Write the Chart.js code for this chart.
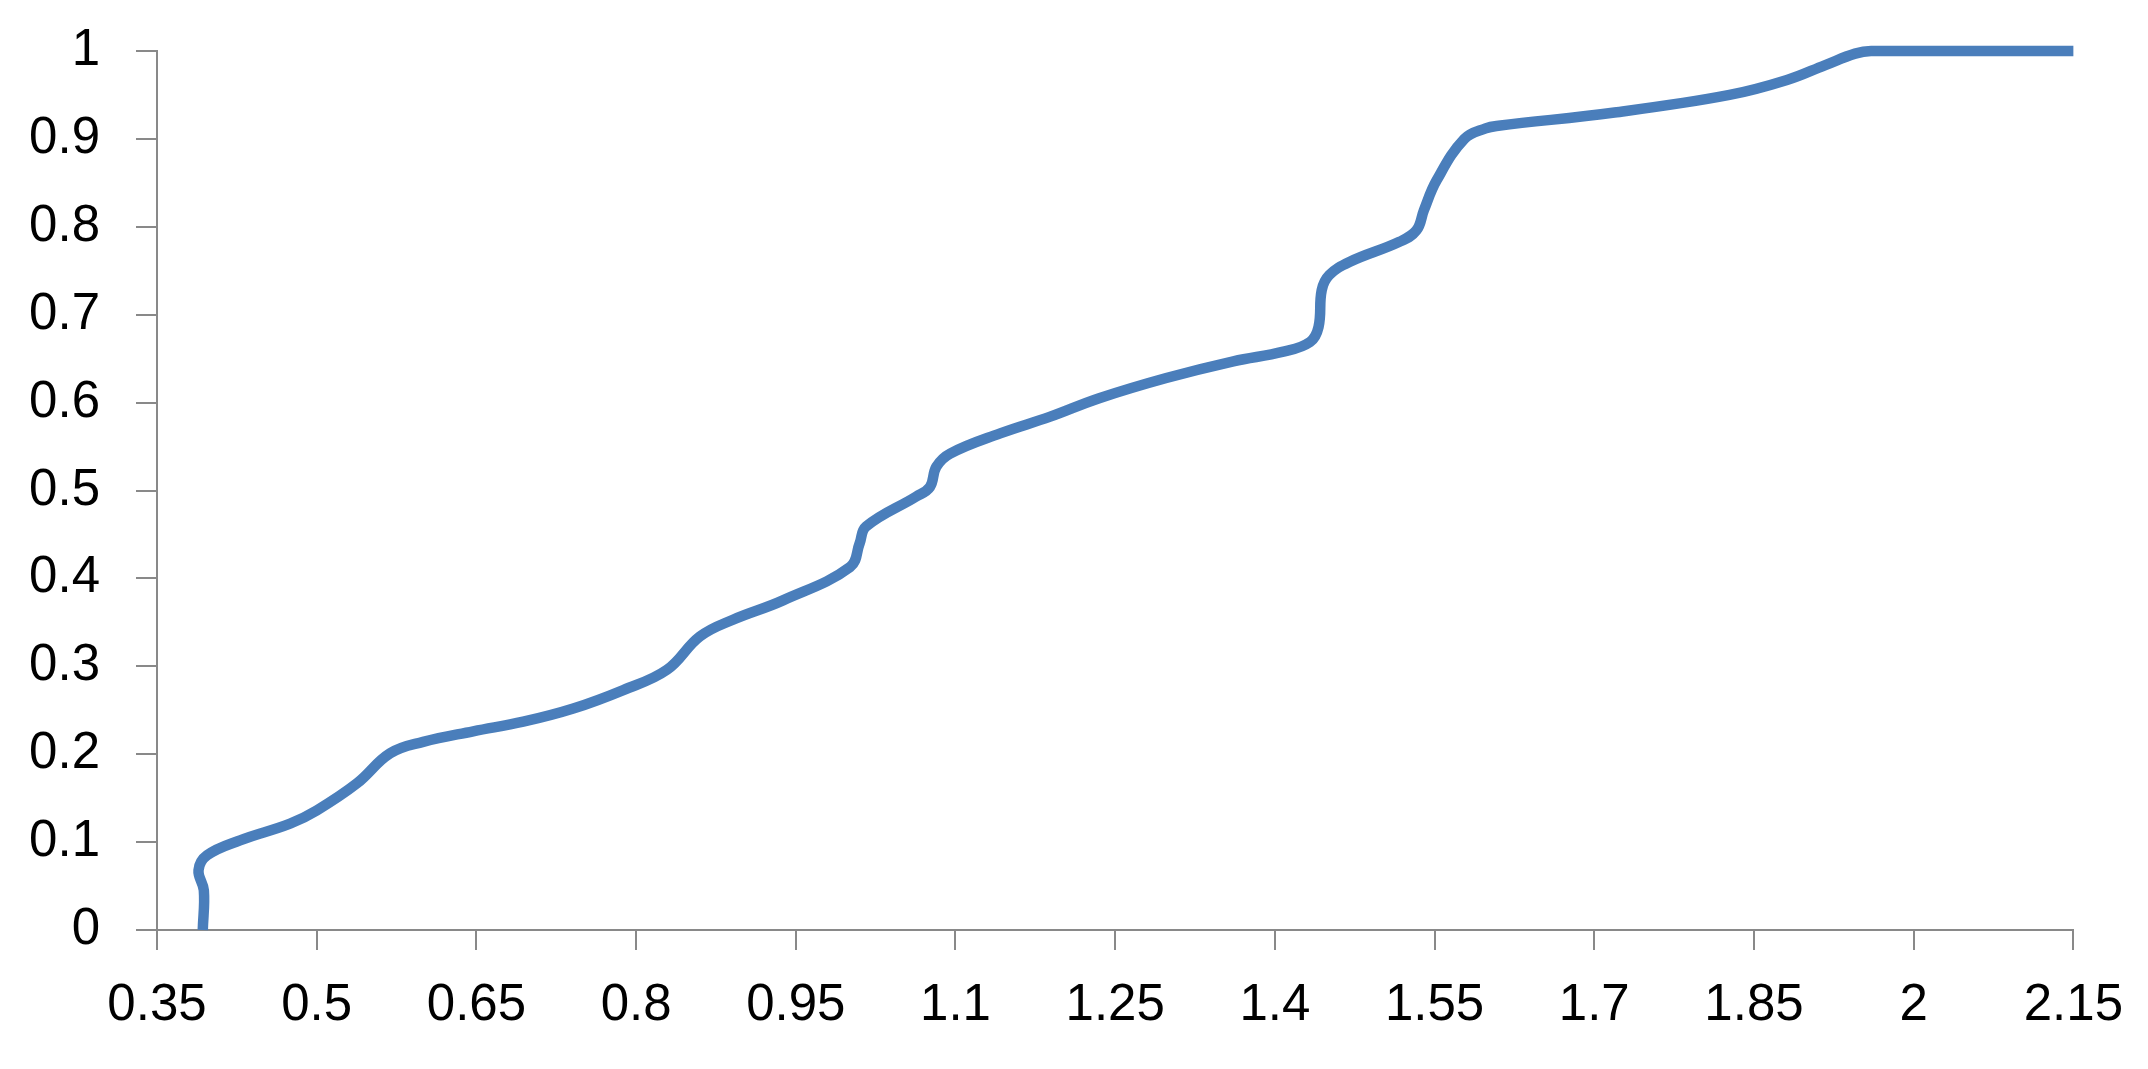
<!DOCTYPE html>
<html>
<head>
<meta charset="utf-8">
<script src="https://cdn.jsdelivr.net/npm/chart.js@4/dist/chart.umd.min.js"></script>
<style>
  html, body { margin: 0; padding: 0; background: #ffffff; }
  canvas { display: block; }
</style>
</head>
<body>
<canvas id="c" width="2148" height="1069"></canvas>
<script>
// ---- data ----
const xValues = [0.393, 0.394, 0.389, 0.397, 0.428, 0.475, 0.500, 0.538, 0.569, 0.600,
                 0.647, 0.694, 0.741, 0.788, 0.829, 0.860, 0.891, 0.938, 1.001, 1.010,
                 1.016, 1.063, 1.076, 1.082, 1.095, 1.142, 1.189, 1.235, 1.298, 1.361,
                 1.408, 1.433, 1.441, 1.444, 1.451, 1.470, 1.517, 1.533, 1.540, 1.552,
                 1.578, 1.598, 1.610, 1.719, 1.827, 1.881, 1.917, 1.945, 1.960, 2.150];
const yValues = [0.000, 0.045, 0.068, 0.085, 0.102, 0.121, 0.136, 0.167, 0.201, 0.214,
                 0.226, 0.237, 0.252, 0.273, 0.296, 0.334, 0.353, 0.375, 0.413, 0.440,
                 0.459, 0.493, 0.504, 0.527, 0.542, 0.565, 0.584, 0.605, 0.628, 0.647,
                 0.658, 0.669, 0.686, 0.728, 0.745, 0.760, 0.783, 0.796, 0.819, 0.853,
                 0.900, 0.912, 0.915, 0.930, 0.950, 0.967, 0.984, 0.997, 1.000, 1.000];
const xTicks = [0.35, 0.5, 0.65, 0.8, 0.95, 1.1, 1.25, 1.4, 1.55, 1.7, 1.85, 2, 2.15];
const xTickLabels = ['0.35', '0.5', '0.65', '0.8', '0.95', '1.1', '1.25', '1.4', '1.55', '1.7', '1.85', '2', '2.15'];
const yTicks = [0, 0.1, 0.2, 0.3, 0.4, 0.5, 0.6, 0.7, 0.8, 0.9, 1];
const yTickLabels = ['0', '0.1', '0.2', '0.3', '0.4', '0.5', '0.6', '0.7', '0.8', '0.9', '1'];

const points = xValues.map((x, i) => ({ x: x, y: yValues[i] }));
const axisColor = '#898989';
const fontFamily = "'Liberation Sans', Arial, sans-serif";

new Chart(document.getElementById('c'), {
  type: 'scatter',
  data: {
    datasets: [{
      data: points,
      showLine: true,
      borderColor: '#4A7EBB',
      borderWidth: 10.5,
      pointRadius: 0,
      pointHoverRadius: 0,
      tension: 0.4,
      fill: false,
      clip: false
    }]
  },
  options: {
    responsive: false,
    animation: false,
    events: [],
    layout: { padding: { top: 51, right: 74, bottom: 0, left: 0 } },
    plugins: { legend: { display: false }, tooltip: { enabled: false } },
    scales: {
      x: {
        type: 'linear',
        min: 0.35,
        max: 2.15,
        afterBuildTicks: (s) => { s.ticks = xTicks.map(v => ({ value: v })); },
        afterFit: (s) => { s.height = 1069 - 930; },
        ticks: {
          callback: (v, i) => xTickLabels[i],
          font: { family: fontFamily, size: 51 },
          color: '#000000',
          padding: 25,
          maxRotation: 0,
          autoSkip: false
        },
        grid: { drawOnChartArea: false, drawTicks: true, tickLength: 20, color: axisColor, lineWidth: 2 },
        border: { display: true, color: axisColor, width: 2 }
      },
      y: {
        type: 'linear',
        min: 0,
        max: 1,
        afterBuildTicks: (s) => { s.ticks = yTicks.map(v => ({ value: v })); },
        afterFit: (s) => { s.width = 157; },
        ticks: {
          callback: (v, i) => yTickLabels[i],
          font: { family: fontFamily, size: 51, lineHeight: 0.5 },
          color: '#000000',
          padding: 36,
          autoSkip: false
        },
        grid: { drawOnChartArea: false, drawTicks: true, tickLength: 21, color: axisColor, lineWidth: 2 },
        border: { display: true, color: axisColor, width: 2 }
      }
    }
  }
});
</script>
</body>
</html>
